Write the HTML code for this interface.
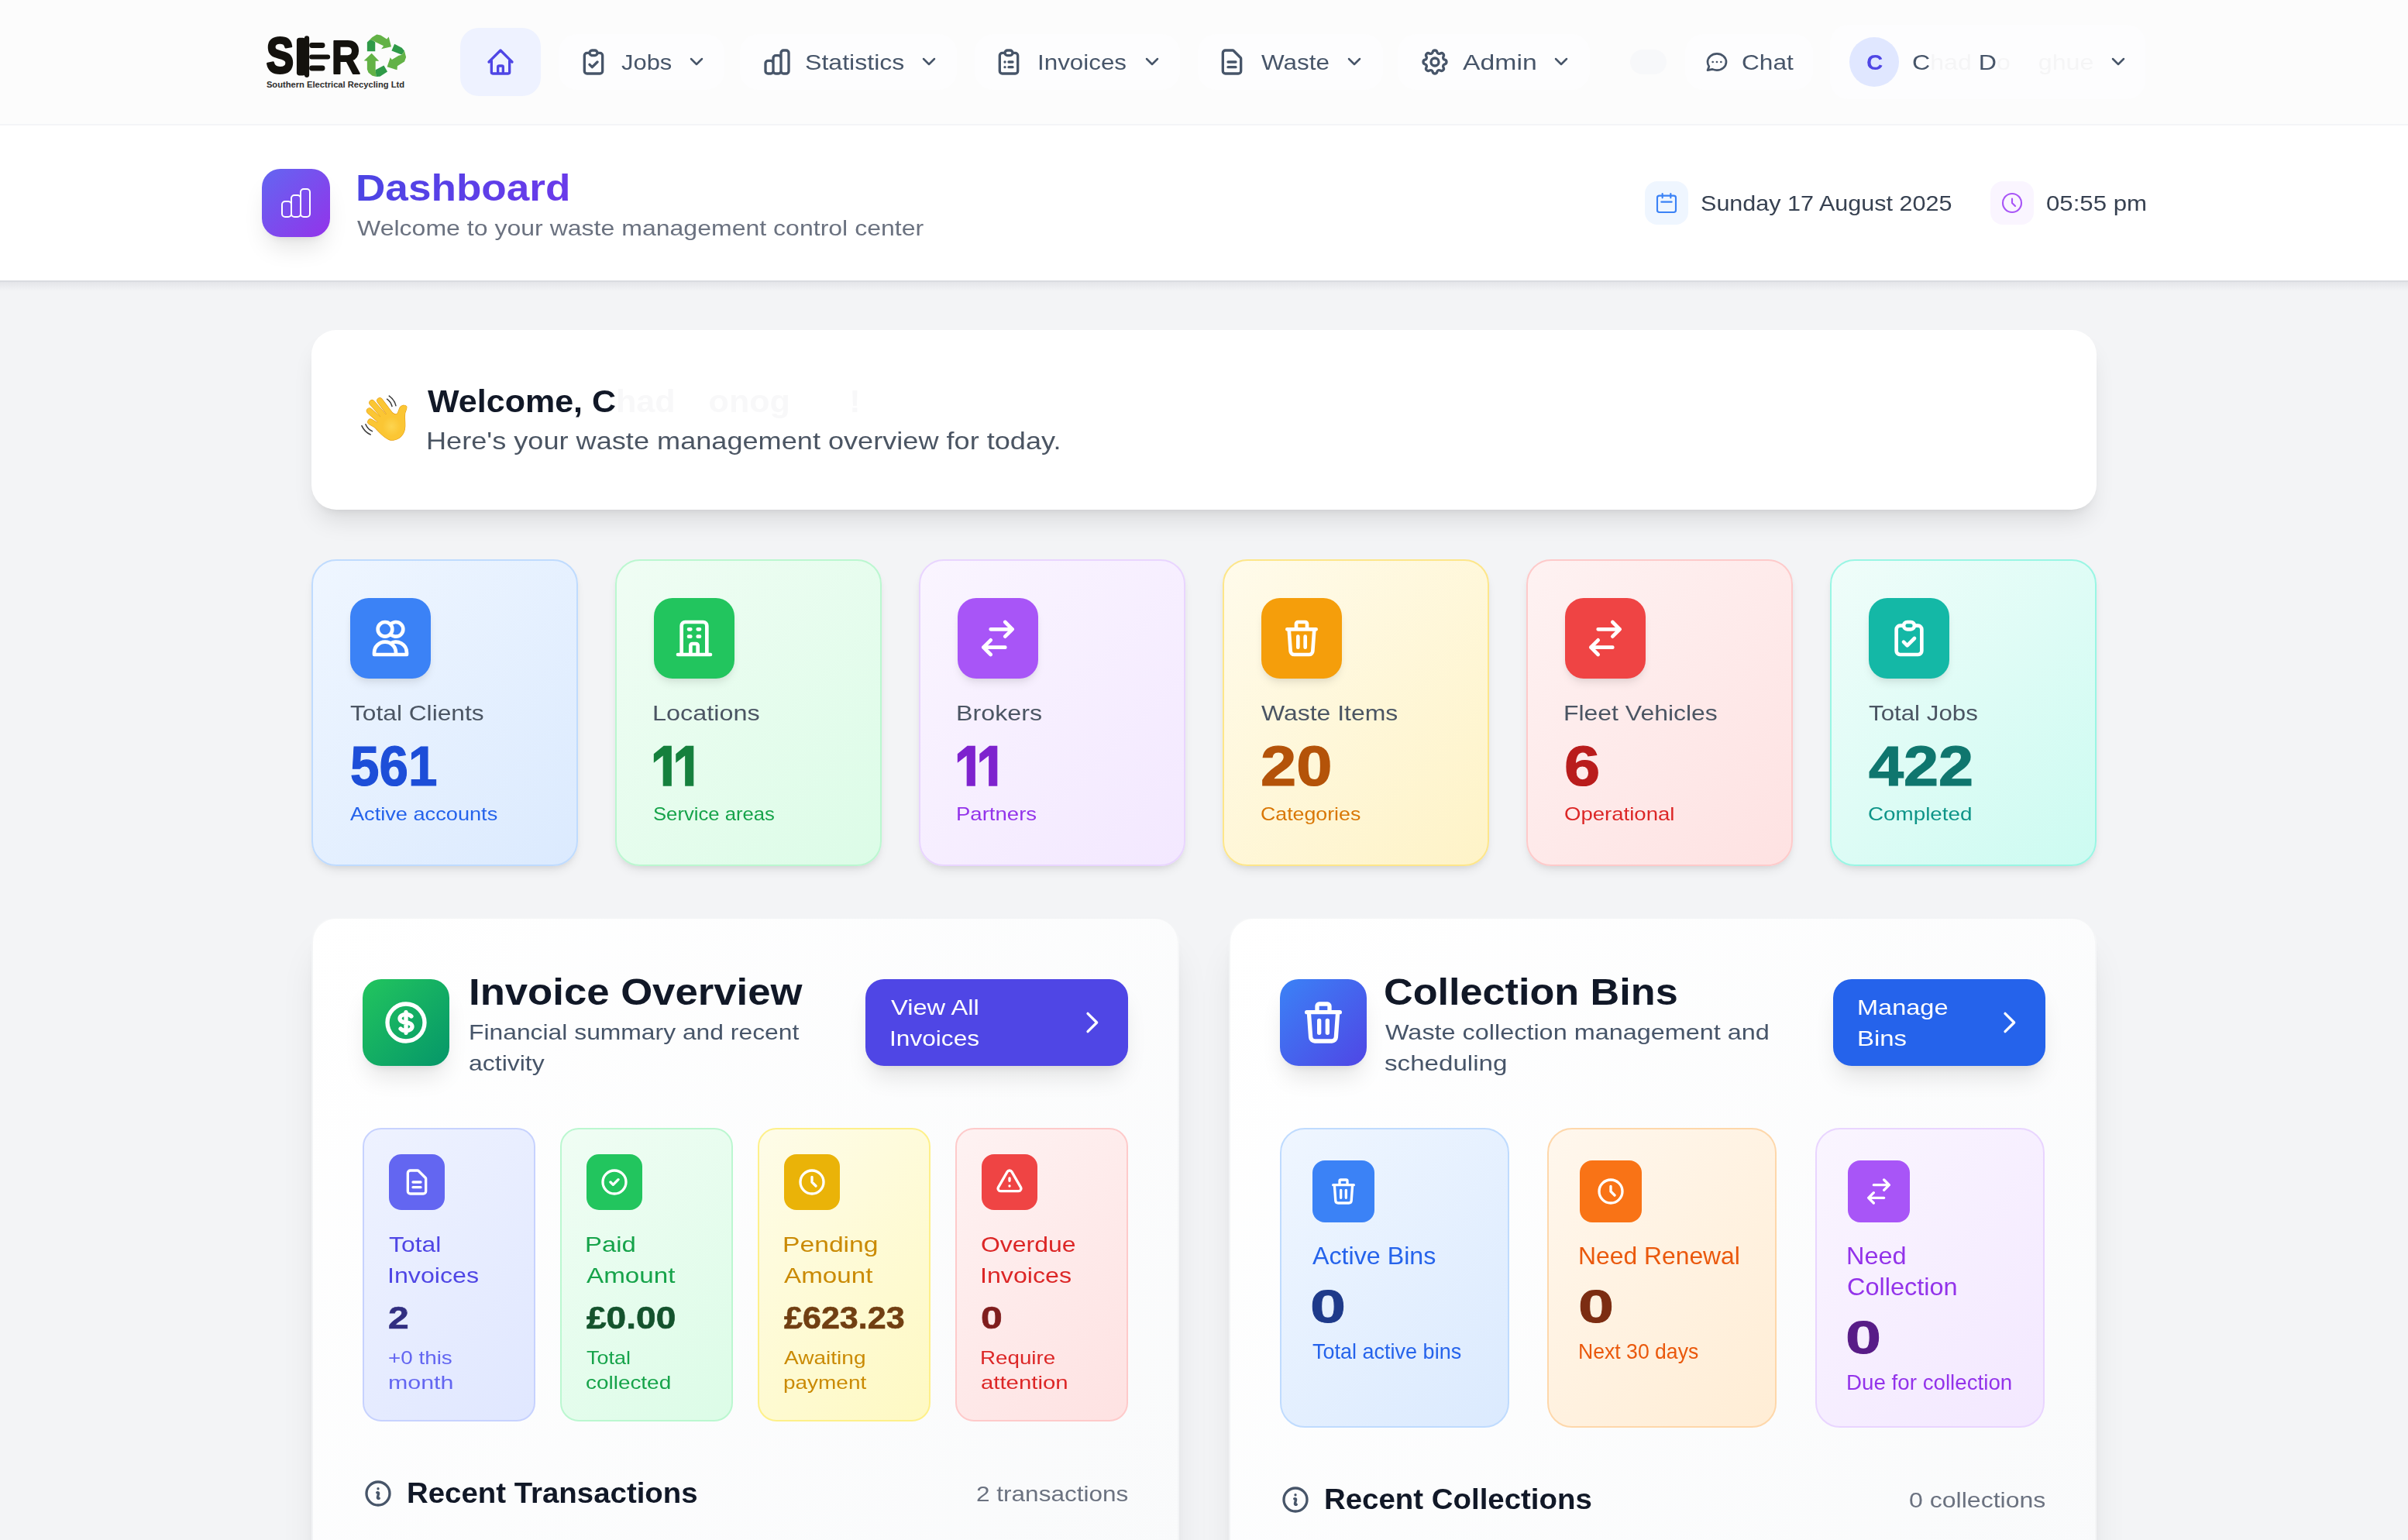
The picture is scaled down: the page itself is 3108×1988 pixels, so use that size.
<!DOCTYPE html>
<html><head><meta charset="utf-8"><title>Dashboard</title>
<style>
html,body{margin:0;padding:0;}
body{width:3108px;height:1988px;overflow:hidden;position:relative;background:#f3f4f6;font-family:"Liberation Sans",Arial,sans-serif;}
.t{position:absolute;white-space:nowrap;}
@media (max-width:2000px){body{zoom:0.5;}}
</style></head><body>
<div style="position:absolute;left:0px;top:0px;width:3108px;height:160px;background:#fcfcfc;"></div>
<div style="position:absolute;left:0px;top:160px;width:3108px;height:2px;background:#f4f5f7;"></div>
<svg style="position:absolute;left:336px;top:38px" width="200" height="80" viewBox="0 0 2408 963"><title>SER - Southern Electrical Recycling Ltd</title>
<text x="92" y="675" font-family="Liberation Sans, sans-serif" font-weight="700" font-size="770" fill="#14120e" stroke="#14120e" stroke-width="36" stroke-linejoin="round" textLength="425" lengthAdjust="spacingAndGlyphs">S</text>
<rect x="565" y="130" width="140" height="585" rx="45" fill="#14120e"/>
<rect x="685" y="100" width="75" height="645" rx="37" fill="#14120e"/>
<rect x="760" y="205" width="245" height="85" rx="42" fill="#14120e"/>
<rect x="760" y="390" width="325" height="72" rx="36" fill="#14120e"/>
<rect x="760" y="560" width="245" height="85" rx="42" fill="#14120e"/>
<text x="1105" y="682" font-family="Liberation Sans, sans-serif" font-weight="700" font-size="740" fill="#14120e" stroke="#14120e" stroke-width="24" stroke-linejoin="round" textLength="450" lengthAdjust="spacingAndGlyphs">R</text>
<polygon points="1660,200 1740,120 1810,78 1870,90 1965,150 1995,115 2035,268 1880,305 1915,255 1790,195 1750,170 1700,165" fill="#63b246"/>
<polygon points="1660,200 1700,165 1750,170 1785,200 1785,340 1660,340" fill="#2f9a48"/>
<polygon points="2040,330 2085,225 2200,285 2240,335 2200,395" fill="#2f9a48"/>
<polygon points="2240,335 2265,430 2240,500 2130,570 2125,630 1970,580 2020,435 2045,470 2150,405 2200,395" fill="#63b246"/>
<polygon points="1660,490 1610,485 1730,370 1845,490 1790,490 1790,630 1800,735 1740,720 1680,670 1660,620" fill="#63b246"/>
<polygon points="1790,630 1920,560 1975,655 1860,730 1800,735" fill="#2f9a48"/>
<text x="95" y="905" font-family="Liberation Sans, sans-serif" font-weight="700" font-size="140" fill="#2e2e2e" textLength="2145" lengthAdjust="spacingAndGlyphs">Southern Electrical Recycling Ltd</text>
</svg>
<div style="position:absolute;left:594px;top:36px;width:104px;height:88px;background:#eef2ff;border-radius:24px;"></div>
<svg style="position:absolute;left:626px;top:60px;" width="40" height="40" viewBox="0 0 24 24" fill="none" stroke="#4f46e5" stroke-width="2" stroke-linecap="round" stroke-linejoin="round"><path d="M3 12l2-2m0 0l7-7 7 7M5 10v10a1 1 0 001 1h3m10-11l2 2m-2-2v10a1 1 0 01-1 1h-3m-6 0a1 1 0 001-1v-4a1 1 0 011-1h2a1 1 0 011 1v4a1 1 0 001 1m-6 0h6"/></svg>
<div style="position:absolute;left:721px;top:44px;width:214px;height:72px;background:#fdfdfe;border-radius:24px;"></div>
<svg style="position:absolute;left:746px;top:60px;" width="40" height="40" viewBox="0 0 24 24" fill="none" stroke="#475569" stroke-width="2" stroke-linecap="round" stroke-linejoin="round"><path d="M9 5H7a2 2 0 00-2 2v12a2 2 0 002 2h10a2 2 0 002-2V7a2 2 0 00-2-2h-2M9 5a2 2 0 002 2h2a2 2 0 002-2M9 5a2 2 0 012-2h2a2 2 0 012 2m-6 9l2 2 4-4"/></svg>
<div class="t" style="left:802.0px;top:64.7px;font-size:28px;line-height:31.28px;color:#475569;transform:scaleX(1.1034);transform-origin:0 0;">Jobs</div>
<svg style="position:absolute;left:887px;top:67px;" width="24" height="24" viewBox="0 0 24 24" fill="none" stroke="#475569" stroke-width="2.5" stroke-linecap="round" stroke-linejoin="round"><path d="M19 9l-7 7-7-7"/></svg>
<div style="position:absolute;left:955px;top:44px;width:280px;height:72px;background:#fdfdfe;border-radius:24px;"></div>
<svg style="position:absolute;left:983px;top:60px;" width="40" height="40" viewBox="0 0 24 24" fill="none" stroke="#475569" stroke-width="2" stroke-linecap="round" stroke-linejoin="round"><path d="M9 19v-6a2 2 0 00-2-2H5a2 2 0 00-2 2v6a2 2 0 002 2h2a2 2 0 002-2zm0 0V9a2 2 0 012-2h2a2 2 0 012 2v10m-6 0a2 2 0 002 2h2a2 2 0 002-2m0 0V5a2 2 0 012-2h2a2 2 0 012 2v14a2 2 0 01-2 2h-2a2 2 0 01-2-2z"/></svg>
<div class="t" style="left:1038.9px;top:64.7px;font-size:28px;line-height:31.28px;color:#475569;transform:scaleX(1.1455);transform-origin:0 0;">Statistics</div>
<svg style="position:absolute;left:1187px;top:67px;" width="24" height="24" viewBox="0 0 24 24" fill="none" stroke="#475569" stroke-width="2.5" stroke-linecap="round" stroke-linejoin="round"><path d="M19 9l-7 7-7-7"/></svg>
<div style="position:absolute;left:1258px;top:44px;width:265px;height:72px;background:#fdfdfe;border-radius:24px;"></div>
<svg style="position:absolute;left:1282px;top:60px;" width="40" height="40" viewBox="0 0 24 24" fill="none" stroke="#475569" stroke-width="2" stroke-linecap="round" stroke-linejoin="round"><path d="M9 5H7a2 2 0 00-2 2v12a2 2 0 002 2h10a2 2 0 002-2V7a2 2 0 00-2-2h-2M9 5a2 2 0 002 2h2a2 2 0 002-2M9 5a2 2 0 012-2h2a2 2 0 012 2m-3 7h3m-3 4h3m-6-4h.01M9 16h.01"/></svg>
<div class="t" style="left:1339.3px;top:64.7px;font-size:28px;line-height:31.28px;color:#475569;transform:scaleX(1.1200);transform-origin:0 0;">Invoices</div>
<svg style="position:absolute;left:1475px;top:67px;" width="24" height="24" viewBox="0 0 24 24" fill="none" stroke="#475569" stroke-width="2.5" stroke-linecap="round" stroke-linejoin="round"><path d="M19 9l-7 7-7-7"/></svg>
<div style="position:absolute;left:1546px;top:44px;width:239px;height:72px;background:#fdfdfe;border-radius:24px;"></div>
<svg style="position:absolute;left:1570px;top:60px;" width="40" height="40" viewBox="0 0 24 24" fill="none" stroke="#475569" stroke-width="2" stroke-linecap="round" stroke-linejoin="round"><path d="M9 12h6m-6 4h6m2 5H7a2 2 0 01-2-2V5a2 2 0 012-2h5.586a1 1 0 01.707.293l5.414 5.414a1 1 0 01.293.707V19a2 2 0 01-2 2z"/></svg>
<div class="t" style="left:1627.5px;top:64.7px;font-size:28px;line-height:31.28px;color:#475569;transform:scaleX(1.1218);transform-origin:0 0;">Waste</div>
<svg style="position:absolute;left:1736px;top:67px;" width="24" height="24" viewBox="0 0 24 24" fill="none" stroke="#475569" stroke-width="2.5" stroke-linecap="round" stroke-linejoin="round"><path d="M19 9l-7 7-7-7"/></svg>
<div style="position:absolute;left:1804px;top:44px;width:248px;height:72px;background:#fdfdfe;border-radius:24px;"></div>
<svg style="position:absolute;left:1832px;top:60px;" width="40" height="40" viewBox="0 0 24 24" fill="none" stroke="#475569" stroke-width="2" stroke-linecap="round" stroke-linejoin="round"><path d="M10.325 4.317c.426-1.756 2.924-1.756 3.35 0a1.724 1.724 0 002.573 1.066c1.543-.94 3.31.826 2.37 2.37a1.724 1.724 0 001.065 2.572c1.756.426 1.756 2.924 0 3.35a1.724 1.724 0 00-1.066 2.573c.94 1.543-.826 3.31-2.37 2.37a1.724 1.724 0 00-2.572 1.065c-.426 1.756-2.924 1.756-3.35 0a1.724 1.724 0 00-2.573-1.066c-1.543.94-3.31-.826-2.37-2.37a1.724 1.724 0 00-1.065-2.572c-1.756-.426-1.756-2.924 0-3.35a1.724 1.724 0 001.066-2.573c-.94-1.543.826-3.31 2.37-2.37.996.608 2.296.07 2.572-1.065zM15 12a3 3 0 11-6 0 3 3 0 016 0z"/></svg>
<div class="t" style="left:1888.0px;top:64.7px;font-size:28px;line-height:31.28px;color:#475569;transform:scaleX(1.2051);transform-origin:0 0;">Admin</div>
<svg style="position:absolute;left:2003px;top:67px;" width="24" height="24" viewBox="0 0 24 24" fill="none" stroke="#475569" stroke-width="2.5" stroke-linecap="round" stroke-linejoin="round"><path d="M19 9l-7 7-7-7"/></svg>
<div style="position:absolute;left:2104px;top:64px;width:47px;height:32px;background:#f7f8fa;border-radius:16px;"></div>
<div style="position:absolute;left:2175px;top:44px;width:165px;height:72px;background:#fdfdfe;border-radius:24px;"></div>
<svg style="position:absolute;left:2200px;top:64px;" width="32" height="32" viewBox="0 0 24 24" fill="none" stroke="#475569" stroke-width="2" stroke-linecap="round" stroke-linejoin="round"><path d="M8 12h.01M12 12h.01M16 12h.01M21 12c0 4.418-4.03 8-9 8a9.863 9.863 0 01-4.255-.949L3 20l1.395-3.72C3.512 15.042 3 13.574 3 12c0-4.418 4.03-8 9-8s9 3.582 9 8z"/></svg>
<div class="t" style="left:2247.9px;top:64.7px;font-size:28px;line-height:31.28px;color:#475569;transform:scaleX(1.1293);transform-origin:0 0;">Chat</div>
<div style="position:absolute;left:2362px;top:32px;width:407px;height:96px;background:#fdfdfe;border-radius:24px;"></div>
<div style="position:absolute;left:2387px;top:48px;width:64px;height:64px;background:#e0e7ff;border-radius:50%;"></div>
<div class="t" style="left:2408.9px;top:64.7px;font-size:28px;line-height:31.28px;color:#4f46e5;transform:scaleX(1.0556);transform-origin:0 0;font-weight:700;">C</div>
<div class="t" style="left:2467.9px;top:64.7px;font-size:28px;line-height:31.28px;color:#475569;transform:scaleX(1.1485);transform-origin:0 0;">C<span style="color:#f5f5f6">had </span>D<span style="color:#f5f5f6">o</span><span style="color:#fdfdfe">no</span><span style="color:#f5f5f6">ghue</span></div>
<svg style="position:absolute;left:2722px;top:67px;" width="24" height="24" viewBox="0 0 24 24" fill="none" stroke="#475569" stroke-width="2.5" stroke-linecap="round" stroke-linejoin="round"><path d="M19 9l-7 7-7-7"/></svg>
<div style="position:absolute;left:0px;top:162px;width:3108px;height:200px;background:#ffffff;"></div>
<div style="position:absolute;left:0px;top:362px;width:3108px;height:2px;background:#d9dbe0;"></div>
<div style="position:absolute;left:0px;top:364px;width:3108px;height:12px;background:linear-gradient(#e4e5e9,rgba(243,244,246,0));"></div>
<div style="position:absolute;left:338px;top:218px;width:88px;height:88px;background:linear-gradient(135deg,#6366f1,#9333ea);border-radius:24px;box-shadow:0 20px 30px -6px rgba(0,0,0,0.1),0 8px 12px -8px rgba(0,0,0,0.1);"></div>
<svg style="position:absolute;left:358px;top:238px;" width="48" height="48" viewBox="0 0 24 24" fill="none" stroke="#ffffff" stroke-width="1" stroke-linecap="round" stroke-linejoin="round"><path d="M9 19v-6a2 2 0 00-2-2H5a2 2 0 00-2 2v6a2 2 0 002 2h2a2 2 0 002-2zm0 0V9a2 2 0 012-2h2a2 2 0 012 2v10m-6 0a2 2 0 002 2h2a2 2 0 002-2m0 0V5a2 2 0 012-2h2a2 2 0 012 2v14a2 2 0 01-2 2h-2a2 2 0 01-2-2z"/></svg>
<div class="t" style="left:458.7px;top:215.6px;font-size:48px;line-height:53.62px;color:#4f46e5;transform:scaleX(1.1066);transform-origin:0 0;font-weight:700;background:linear-gradient(90deg,#4c45e4,#6a3aea);-webkit-background-clip:text;background-clip:text;color:transparent;">Dashboard</div>
<div class="t" style="left:461.0px;top:278.7px;font-size:28px;line-height:31.28px;color:#6b7280;transform:scaleX(1.1440);transform-origin:0 0;">Welcome to your waste management control center</div>
<div style="position:absolute;left:2123px;top:234px;width:56px;height:56px;background:#eff6ff;border-radius:16px;"></div>
<svg style="position:absolute;left:2135px;top:246px;" width="32" height="32" viewBox="0 0 24 24" fill="none" stroke="#3b82f6" stroke-width="1.6" stroke-linecap="round" stroke-linejoin="round"><path d="M8 7V3m8 4V3m-9 8h10M5 21h14a2 2 0 002-2V7a2 2 0 00-2-2H5a2 2 0 00-2 2v12a2 2 0 002 2z"/></svg>
<div class="t" style="left:2194.9px;top:247.2px;font-size:28px;line-height:31.28px;color:#374151;transform:scaleX(1.0912);transform-origin:0 0;">Sunday 17 August 2025</div>
<div style="position:absolute;left:2569px;top:234px;width:56px;height:56px;background:#faf5ff;border-radius:16px;"></div>
<svg style="position:absolute;left:2581px;top:246px;" width="32" height="32" viewBox="0 0 24 24" fill="none" stroke="#a855f7" stroke-width="1.6" stroke-linecap="round" stroke-linejoin="round"><path d="M12 8v4l3 3m6-3a9 9 0 11-18 0 9 9 0 0118 0z"/></svg>
<div class="t" style="left:2640.9px;top:247.2px;font-size:28px;line-height:31.28px;color:#374151;transform:scaleX(1.1140);transform-origin:0 0;">05:55 pm</div>
<div style="position:absolute;left:402px;top:426px;width:2304px;height:232px;background:#ffffff;border-radius:32px;box-shadow:0 20px 30px -6px rgba(0,0,0,0.1),0 8px 12px -8px rgba(0,0,0,0.1);"></div>
<svg style="position:absolute;left:460px;top:505px" width="72" height="70" viewBox="0 0 1584 1540">
<defs><radialGradient id="hl"><stop offset="0" stop-color="#fdd856" stop-opacity="0.8"/><stop offset="1" stop-color="#fdd856" stop-opacity="0"/></radialGradient></defs>
<g stroke="#3d3d3d" stroke-width="34" fill="none" stroke-linecap="round">
<path d="M870 225 Q975 300 1012 430"/><path d="M930 135 Q1080 240 1120 410"/>
<path d="M262 940 Q320 1080 450 1135"/><path d="M152 982 Q240 1170 400 1230"/></g>
<g stroke-linecap="round">
<line x1="400" y1="870" x2="760" y2="1080" stroke="#e6a01b" stroke-width="175"/>
<line x1="370" y1="560" x2="760" y2="900" stroke="#e6a01b" stroke-width="175"/>
<line x1="445" y1="330" x2="840" y2="780" stroke="#e6a01b" stroke-width="175"/>
<line x1="665" y1="270" x2="960" y2="660" stroke="#e6a01b" stroke-width="175"/>
<path d="M520,1025 C640,1150 840,1390 1000,1390 C1200,1390 1370,1250 1380,1000 C1385,850 1360,740 1380,620 C1400,540 1450,470 1420,430 C1380,380 1280,400 1240,460 C1200,520 1200,600 1150,650 C1100,680 1050,640 1000,600 L700,700 Z" fill="#e6a01b" stroke="#e6a01b" stroke-width="26" stroke-linejoin="round"/>
<line x1="400" y1="870" x2="760" y2="1080" stroke="#fbc634" stroke-width="150"/>
<line x1="370" y1="560" x2="760" y2="900" stroke="#fbc634" stroke-width="150"/>
<line x1="445" y1="330" x2="840" y2="780" stroke="#fbc634" stroke-width="150"/>
<line x1="665" y1="270" x2="960" y2="660" stroke="#fbc634" stroke-width="150"/>
<path d="M520,1025 C640,1150 840,1390 1000,1390 C1200,1390 1370,1250 1380,1000 C1385,850 1360,740 1380,620 C1400,540 1450,470 1420,430 C1380,380 1280,400 1240,460 C1200,520 1200,600 1150,650 C1100,680 1050,640 1000,600 L700,700 Z" fill="#fbc634"/>
<ellipse cx="1000" cy="1000" rx="260" ry="280" fill="url(#hl)"/>
</g></svg>
<div class="t" style="left:552.0px;top:495.8px;font-size:40px;line-height:44.68px;color:#111827;transform:scaleX(1.0756);transform-origin:0 0;font-weight:700;">Welcome, C<span style="color:#f8f8f9">had</span><span style="color:#fff"> D</span><span style="color:#f8f8f9">onog</span><span style="color:#fff">hue</span><span style="color:#f8f8f9">!</span></div>
<div class="t" style="left:549.7px;top:551.5px;font-size:32px;line-height:35.74px;color:#4b5563;transform:scaleX(1.1290);transform-origin:0 0;">Here's your waste management overview for today.</div>
<div style="position:absolute;left:402px;top:722px;width:344px;height:396px;box-sizing:border-box;border:2px solid #bfdbfe;border-radius:32px;background:linear-gradient(135deg,#eff6ff,#dbeafe);box-shadow:0 8px 14px -4px rgba(0,0,0,0.1),0 4px 8px -4px rgba(0,0,0,0.08);"></div>
<div style="position:absolute;left:452px;top:772px;width:104px;height:104px;background:#3b82f6;border-radius:24px;box-shadow:0 8px 12px -2px rgba(0,0,0,0.08),0 4px 8px -4px rgba(0,0,0,0.08);"></div>
<svg style="position:absolute;left:476px;top:796px;" width="56" height="56" viewBox="0 0 24 24" fill="none" stroke="#ffffff" stroke-width="2" stroke-linecap="round" stroke-linejoin="round"><path d="M12 4.354a4 4 0 110 5.292M15 21H3v-1a6 6 0 0112 0v1zm0 0h6v-1a6 6 0 00-9-5.197M13 7a4 4 0 11-8 0 4 4 0 018 0z"/></svg>
<div class="t" style="left:452.0px;top:904.7px;font-size:28px;line-height:31.28px;color:#4b5563;transform:scaleX(1.1316);transform-origin:0 0;">Total Clients</div>
<div class="t" style="left:451.6px;top:949.1px;font-size:72px;line-height:80.42px;color:#1d4ed8;transform:scaleX(0.9353);transform-origin:0 0;font-weight:700;-webkit-text-stroke:1.2px #1d4ed8;">561</div>
<div class="t" style="left:452.0px;top:1038.3px;font-size:24px;line-height:26.81px;color:#2563eb;transform:scaleX(1.1317);transform-origin:0 0;">Active accounts</div>
<div style="position:absolute;left:794px;top:722px;width:344px;height:396px;box-sizing:border-box;border:2px solid #bbf7d0;border-radius:32px;background:linear-gradient(135deg,#f0fdf4,#dcfce7);box-shadow:0 8px 14px -4px rgba(0,0,0,0.1),0 4px 8px -4px rgba(0,0,0,0.08);"></div>
<div style="position:absolute;left:844px;top:772px;width:104px;height:104px;background:#22c55e;border-radius:24px;box-shadow:0 8px 12px -2px rgba(0,0,0,0.08),0 4px 8px -4px rgba(0,0,0,0.08);"></div>
<svg style="position:absolute;left:868px;top:796px;" width="56" height="56" viewBox="0 0 24 24" fill="none" stroke="#ffffff" stroke-width="2" stroke-linecap="round" stroke-linejoin="round"><path d="M19 21V5a2 2 0 00-2-2H7a2 2 0 00-2 2v16m14 0h2m-2 0h-5m-9 0H3m2 0h5M9 7h1m-1 4h1m4-4h1m-1 4h1m-5 10v-5a1 1 0 011-1h2a1 1 0 011 1v5m-4 0h4"/></svg>
<div class="t" style="left:841.7px;top:904.7px;font-size:28px;line-height:31.28px;color:#4b5563;transform:scaleX(1.1581);transform-origin:0 0;">Locations</div>
<div class="t" style="left:839.6px;top:948.4px;font-size:72px;line-height:80.4px;font-weight:700;color:#15803d;-webkit-text-stroke:1.2px #15803d;letter-spacing:-11.6px;font-kerning:none;clip-path:inset(0 0 24.5px 0);transform:scaleY(1.27);transform-origin:0 16px;">11</div>
<div class="t" style="left:842.9px;top:1038.3px;font-size:24px;line-height:26.81px;color:#16a34a;transform:scaleX(1.0690);transform-origin:0 0;">Service areas</div>
<div style="position:absolute;left:1186px;top:722px;width:344px;height:396px;box-sizing:border-box;border:2px solid #e9d5ff;border-radius:32px;background:linear-gradient(135deg,#faf5ff,#f3e8ff);box-shadow:0 8px 14px -4px rgba(0,0,0,0.1),0 4px 8px -4px rgba(0,0,0,0.08);"></div>
<div style="position:absolute;left:1236px;top:772px;width:104px;height:104px;background:#a855f7;border-radius:24px;box-shadow:0 8px 12px -2px rgba(0,0,0,0.08),0 4px 8px -4px rgba(0,0,0,0.08);"></div>
<svg style="position:absolute;left:1260px;top:796px;" width="56" height="56" viewBox="0 0 24 24" fill="none" stroke="#ffffff" stroke-width="2" stroke-linecap="round" stroke-linejoin="round"><path d="M8 7h12m0 0l-4-4m4 4l-4 4m0 6H4m0 0l4 4m-4-4l4-4"/></svg>
<div class="t" style="left:1233.7px;top:904.7px;font-size:28px;line-height:31.28px;color:#4b5563;transform:scaleX(1.1505);transform-origin:0 0;">Brokers</div>
<div class="t" style="left:1231.6px;top:948.4px;font-size:72px;line-height:80.4px;font-weight:700;color:#7e22ce;-webkit-text-stroke:1.2px #7e22ce;letter-spacing:-11.6px;font-kerning:none;clip-path:inset(0 0 24.5px 0);transform:scaleY(1.27);transform-origin:0 16px;">11</div>
<div class="t" style="left:1233.7px;top:1038.3px;font-size:24px;line-height:26.81px;color:#9333ea;transform:scaleX(1.1477);transform-origin:0 0;">Partners</div>
<div style="position:absolute;left:1578px;top:722px;width:344px;height:396px;box-sizing:border-box;border:2px solid #fde68a;border-radius:32px;background:linear-gradient(135deg,#fffbeb,#fef3c7);box-shadow:0 8px 14px -4px rgba(0,0,0,0.1),0 4px 8px -4px rgba(0,0,0,0.08);"></div>
<div style="position:absolute;left:1628px;top:772px;width:104px;height:104px;background:#f59e0b;border-radius:24px;box-shadow:0 8px 12px -2px rgba(0,0,0,0.08),0 4px 8px -4px rgba(0,0,0,0.08);"></div>
<svg style="position:absolute;left:1652px;top:796px;" width="56" height="56" viewBox="0 0 24 24" fill="none" stroke="#ffffff" stroke-width="2" stroke-linecap="round" stroke-linejoin="round"><path d="M19 7l-.867 12.142A2 2 0 0116.138 21H7.862a2 2 0 01-1.995-1.858L5 7m5 4v6m4-6v6m1-10V4a1 1 0 00-1-1h-4a1 1 0 00-1 1v3M4 7h16"/></svg>
<div class="t" style="left:1628.0px;top:904.7px;font-size:28px;line-height:31.28px;color:#4b5563;transform:scaleX(1.1403);transform-origin:0 0;">Waste Items</div>
<div class="t" style="left:1627.2px;top:949.1px;font-size:72px;line-height:80.42px;color:#b45309;transform:scaleX(1.1533);transform-origin:0 0;font-weight:700;-webkit-text-stroke:1.2px #b45309;">20</div>
<div class="t" style="left:1626.9px;top:1038.3px;font-size:24px;line-height:26.81px;color:#d97706;transform:scaleX(1.1140);transform-origin:0 0;">Categories</div>
<div style="position:absolute;left:1970px;top:722px;width:344px;height:396px;box-sizing:border-box;border:2px solid #fecaca;border-radius:32px;background:linear-gradient(135deg,#fef2f2,#fee2e2);box-shadow:0 8px 14px -4px rgba(0,0,0,0.1),0 4px 8px -4px rgba(0,0,0,0.08);"></div>
<div style="position:absolute;left:2020px;top:772px;width:104px;height:104px;background:#ef4444;border-radius:24px;box-shadow:0 8px 12px -2px rgba(0,0,0,0.08),0 4px 8px -4px rgba(0,0,0,0.08);"></div>
<svg style="position:absolute;left:2044px;top:796px;" width="56" height="56" viewBox="0 0 24 24" fill="none" stroke="#ffffff" stroke-width="2" stroke-linecap="round" stroke-linejoin="round"><path d="M8 7h12m0 0l-4-4m4 4l-4 4m0 6H4m0 0l4 4m-4-4l4-4"/></svg>
<div class="t" style="left:2017.7px;top:904.7px;font-size:28px;line-height:31.28px;color:#4b5563;transform:scaleX(1.1404);transform-origin:0 0;">Fleet Vehicles</div>
<div class="t" style="left:2019.2px;top:949.1px;font-size:72px;line-height:80.42px;color:#b91c1c;transform:scaleX(1.1528);transform-origin:0 0;font-weight:700;-webkit-text-stroke:1.2px #b91c1c;">6</div>
<div class="t" style="left:2018.9px;top:1038.3px;font-size:24px;line-height:26.81px;color:#dc2626;transform:scaleX(1.1475);transform-origin:0 0;">Operational</div>
<div style="position:absolute;left:2362px;top:722px;width:344px;height:396px;box-sizing:border-box;border:2px solid #99f6e4;border-radius:32px;background:linear-gradient(135deg,#f0fdfa,#ccfbf1);box-shadow:0 8px 14px -4px rgba(0,0,0,0.1),0 4px 8px -4px rgba(0,0,0,0.08);"></div>
<div style="position:absolute;left:2412px;top:772px;width:104px;height:104px;background:#14b8a6;border-radius:24px;box-shadow:0 8px 12px -2px rgba(0,0,0,0.08),0 4px 8px -4px rgba(0,0,0,0.08);"></div>
<svg style="position:absolute;left:2436px;top:796px;" width="56" height="56" viewBox="0 0 24 24" fill="none" stroke="#ffffff" stroke-width="2" stroke-linecap="round" stroke-linejoin="round"><path d="M9 5H7a2 2 0 00-2 2v12a2 2 0 002 2h10a2 2 0 002-2V7a2 2 0 00-2-2h-2M9 5a2 2 0 002 2h2a2 2 0 002-2M9 5a2 2 0 012-2h2a2 2 0 012 2m-6 9l2 2 4-4"/></svg>
<div class="t" style="left:2412.0px;top:904.7px;font-size:28px;line-height:31.28px;color:#4b5563;transform:scaleX(1.1168);transform-origin:0 0;">Total Jobs</div>
<div class="t" style="left:2412.4px;top:949.1px;font-size:72px;line-height:80.42px;color:#0f766e;transform:scaleX(1.1250);transform-origin:0 0;font-weight:700;-webkit-text-stroke:1.2px #0f766e;">422</div>
<div class="t" style="left:2410.8px;top:1038.3px;font-size:24px;line-height:26.81px;color:#0d9488;transform:scaleX(1.1579);transform-origin:0 0;">Completed</div>
<div style="position:absolute;left:402px;top:1184px;width:1120px;height:900px;box-sizing:border-box;border:2px solid rgba(225,228,232,0.3);border-radius:32px;background:linear-gradient(135deg,#ffffff,#f9fafb);box-shadow:0 40px 50px -10px rgba(0,0,0,0.1),0 16px 20px -12px rgba(0,0,0,0.1);"></div>
<div style="position:absolute;left:1586px;top:1184px;width:1120px;height:900px;box-sizing:border-box;border:2px solid rgba(225,228,232,0.3);border-radius:32px;background:linear-gradient(135deg,#ffffff,#f9fafb);box-shadow:0 40px 50px -10px rgba(0,0,0,0.1),0 16px 20px -12px rgba(0,0,0,0.1);"></div>
<div style="position:absolute;left:468px;top:1264px;width:112px;height:112px;background:linear-gradient(135deg,#22c55e,#059669);border-radius:24px;box-shadow:0 20px 30px -6px rgba(0,0,0,0.1),0 8px 12px -8px rgba(0,0,0,0.1);"></div>
<svg style="position:absolute;left:492px;top:1288px;" width="64" height="64" viewBox="0 0 24 24" fill="none" stroke="#ffffff" stroke-width="2" stroke-linecap="round" stroke-linejoin="round"><path d="M12 8c-1.657 0-3 .895-3 2s1.343 2 3 2 3 .895 3 2-1.343 2-3 2m0-8c1.11 0 2.08.402 2.599 1M12 8V7m0 1v8m0 0v1m0-1c-1.11 0-2.08-.402-2.599-1M21 12a9 9 0 11-18 0 9 9 0 0118 0z"/></svg>
<div class="t" style="left:604.7px;top:1253.6px;font-size:48px;line-height:53.62px;color:#111827;transform:scaleX(1.0974);transform-origin:0 0;font-weight:700;">Invoice Overview</div>
<div class="t" style="left:604.7px;top:1317.0px;font-size:28px;line-height:31.28px;color:#475569;transform:scaleX(1.1367);transform-origin:0 0;">Financial summary and recent</div>
<div class="t" style="left:604.9px;top:1356.7px;font-size:28px;line-height:31.28px;color:#475569;transform:scaleX(1.1412);transform-origin:0 0;">activity</div>
<div style="position:absolute;left:1117px;top:1264px;width:339px;height:112px;background:#4f46e5;border-radius:24px;box-shadow:0 20px 30px -6px rgba(0,0,0,0.1),0 8px 12px -8px rgba(0,0,0,0.1);"></div>
<div class="t" style="left:1150.0px;top:1285.2px;font-size:28px;line-height:31.28px;color:#ffffff;transform:scaleX(1.1667);transform-origin:0 0;">View All</div>
<div class="t" style="left:1147.7px;top:1325.2px;font-size:28px;line-height:31.28px;color:#ffffff;transform:scaleX(1.1300);transform-origin:0 0;">Invoices</div>
<svg style="position:absolute;left:1389px;top:1300px;" width="40" height="40" viewBox="0 0 24 24" fill="none" stroke="#ffffff" stroke-width="2" stroke-linecap="round" stroke-linejoin="round"><path d="M9 5l7 7-7 7"/></svg>
<div style="position:absolute;left:1652px;top:1264px;width:112px;height:112px;background:linear-gradient(135deg,#3b82f6,#4f46e5);border-radius:24px;box-shadow:0 20px 30px -6px rgba(0,0,0,0.1),0 8px 12px -8px rgba(0,0,0,0.1);"></div>
<svg style="position:absolute;left:1676px;top:1288px;" width="64" height="64" viewBox="0 0 24 24" fill="none" stroke="#ffffff" stroke-width="2" stroke-linecap="round" stroke-linejoin="round"><path d="M19 7l-.867 12.142A2 2 0 0116.138 21H7.862a2 2 0 01-1.995-1.858L5 7m5 4v6m4-6v6m1-10V4a1 1 0 00-1-1h-4a1 1 0 00-1 1v3M4 7h16"/></svg>
<div class="t" style="left:1785.8px;top:1253.6px;font-size:48px;line-height:53.62px;color:#111827;transform:scaleX(1.0867);transform-origin:0 0;font-weight:700;">Collection Bins</div>
<div class="t" style="left:1788.0px;top:1317.0px;font-size:28px;line-height:31.28px;color:#475569;transform:scaleX(1.1569);transform-origin:0 0;">Waste collection management and</div>
<div class="t" style="left:1786.8px;top:1356.7px;font-size:28px;line-height:31.28px;color:#475569;transform:scaleX(1.1832);transform-origin:0 0;">scheduling</div>
<div style="position:absolute;left:2366px;top:1264px;width:274px;height:112px;background:#2563eb;border-radius:24px;box-shadow:0 20px 30px -6px rgba(0,0,0,0.1),0 8px 12px -8px rgba(0,0,0,0.1);"></div>
<div class="t" style="left:2396.7px;top:1285.2px;font-size:28px;line-height:31.28px;color:#ffffff;transform:scaleX(1.1616);transform-origin:0 0;">Manage</div>
<div class="t" style="left:2396.6px;top:1325.2px;font-size:28px;line-height:31.28px;color:#ffffff;transform:scaleX(1.1765);transform-origin:0 0;">Bins</div>
<svg style="position:absolute;left:2573px;top:1300px;" width="40" height="40" viewBox="0 0 24 24" fill="none" stroke="#ffffff" stroke-width="2" stroke-linecap="round" stroke-linejoin="round"><path d="M9 5l7 7-7 7"/></svg>
<div style="position:absolute;left:468px;top:1456px;width:223px;height:379px;box-sizing:border-box;border:2px solid #c7d2fe;border-radius:24px;background:linear-gradient(135deg,#eef2ff,#e0e7ff);"></div>
<div style="position:absolute;left:502px;top:1490px;width:72px;height:72px;background:#6366f1;border-radius:16px;"></div>
<svg style="position:absolute;left:518px;top:1506px;" width="40" height="40" viewBox="0 0 24 24" fill="none" stroke="#ffffff" stroke-width="2" stroke-linecap="round" stroke-linejoin="round"><path d="M9 12h6m-6 4h6m2 5H7a2 2 0 01-2-2V5a2 2 0 012-2h5.586a1 1 0 01.707.293l5.414 5.414a1 1 0 01.293.707V19a2 2 0 01-2 2z"/></svg>
<div class="t" style="left:502.0px;top:1590.7px;font-size:28px;line-height:31.28px;color:#4f46e5;transform:scaleX(1.1379);transform-origin:0 0;">Total</div>
<div class="t" style="left:499.7px;top:1630.7px;font-size:28px;line-height:31.28px;color:#4f46e5;transform:scaleX(1.1500);transform-origin:0 0;">Invoices</div>
<div class="t" style="left:500.8px;top:1679.1px;font-size:40px;line-height:44.68px;color:#312e81;transform:scaleX(1.2000);transform-origin:0 0;font-weight:700;-webkit-text-stroke:0.6px #312e81;">2</div>
<div class="t" style="left:500.8px;top:1740.3px;font-size:24px;line-height:26.81px;color:#6366f1;transform:scaleX(1.1594);transform-origin:0 0;">+0 this</div>
<div class="t" style="left:500.7px;top:1772.3px;font-size:24px;line-height:26.81px;color:#6366f1;transform:scaleX(1.2656);transform-origin:0 0;">month</div>
<div style="position:absolute;left:723px;top:1456px;width:223px;height:379px;box-sizing:border-box;border:2px solid #bbf7d0;border-radius:24px;background:linear-gradient(135deg,#f0fdf4,#dcfce7);"></div>
<div style="position:absolute;left:757px;top:1490px;width:72px;height:72px;background:#22c55e;border-radius:16px;"></div>
<svg style="position:absolute;left:773px;top:1506px;" width="40" height="40" viewBox="0 0 24 24" fill="none" stroke="#ffffff" stroke-width="2" stroke-linecap="round" stroke-linejoin="round"><path d="M9 12l2 2 4-4m6 2a9 9 0 11-18 0 9 9 0 0118 0z"/></svg>
<div class="t" style="left:754.7px;top:1590.7px;font-size:28px;line-height:31.28px;color:#16a34a;transform:scaleX(1.1731);transform-origin:0 0;">Paid</div>
<div class="t" style="left:757.0px;top:1630.7px;font-size:28px;line-height:31.28px;color:#16a34a;transform:scaleX(1.1856);transform-origin:0 0;">Amount</div>
<div class="t" style="left:757.0px;top:1679.1px;font-size:40px;line-height:44.68px;color:#14532d;transform:scaleX(1.1515);transform-origin:0 0;font-weight:700;-webkit-text-stroke:0.6px #14532d;">£0.00</div>
<div class="t" style="left:757.0px;top:1740.3px;font-size:24px;line-height:26.81px;color:#16a34a;transform:scaleX(1.1224);transform-origin:0 0;">Total</div>
<div class="t" style="left:755.8px;top:1772.3px;font-size:24px;line-height:26.81px;color:#16a34a;transform:scaleX(1.1630);transform-origin:0 0;">collected</div>
<div style="position:absolute;left:978px;top:1456px;width:223px;height:379px;box-sizing:border-box;border:2px solid #fef08a;border-radius:24px;background:linear-gradient(135deg,#fefce8,#fef9c3);"></div>
<div style="position:absolute;left:1012px;top:1490px;width:72px;height:72px;background:#eab308;border-radius:16px;"></div>
<svg style="position:absolute;left:1028px;top:1506px;" width="40" height="40" viewBox="0 0 24 24" fill="none" stroke="#ffffff" stroke-width="2" stroke-linecap="round" stroke-linejoin="round"><path d="M12 8v4l3 3m6-3a9 9 0 11-18 0 9 9 0 0118 0z"/></svg>
<div class="t" style="left:1009.6px;top:1590.7px;font-size:28px;line-height:31.28px;color:#ca8a04;transform:scaleX(1.2020);transform-origin:0 0;">Pending</div>
<div class="t" style="left:1012.0px;top:1630.7px;font-size:28px;line-height:31.28px;color:#ca8a04;transform:scaleX(1.1856);transform-origin:0 0;">Amount</div>
<div class="t" style="left:1012.0px;top:1679.1px;font-size:40px;line-height:44.68px;color:#713f12;transform:scaleX(1.0769);transform-origin:0 0;font-weight:700;-webkit-text-stroke:0.6px #713f12;">£623.23</div>
<div class="t" style="left:1012.0px;top:1740.3px;font-size:24px;line-height:26.81px;color:#ca8a04;transform:scaleX(1.1685);transform-origin:0 0;">Awaiting</div>
<div class="t" style="left:1010.8px;top:1772.3px;font-size:24px;line-height:26.81px;color:#ca8a04;transform:scaleX(1.1648);transform-origin:0 0;">payment</div>
<div style="position:absolute;left:1233px;top:1456px;width:223px;height:379px;box-sizing:border-box;border:2px solid #fecaca;border-radius:24px;background:linear-gradient(135deg,#fef2f2,#fee2e2);"></div>
<div style="position:absolute;left:1267px;top:1490px;width:72px;height:72px;background:#ef4444;border-radius:16px;"></div>
<svg style="position:absolute;left:1283px;top:1506px;" width="40" height="40" viewBox="0 0 24 24" fill="none" stroke="#ffffff" stroke-width="2" stroke-linecap="round" stroke-linejoin="round"><path d="M12 9v2m0 4h.01m-6.938 4h13.856c1.54 0 2.502-1.667 1.732-3L13.732 4c-.77-1.333-2.694-1.333-3.464 0L3.34 16c-.77 1.333.192 3 1.732 3z"/></svg>
<div class="t" style="left:1265.9px;top:1590.7px;font-size:28px;line-height:31.28px;color:#dc2626;transform:scaleX(1.1415);transform-origin:0 0;">Overdue</div>
<div class="t" style="left:1264.7px;top:1630.7px;font-size:28px;line-height:31.28px;color:#dc2626;transform:scaleX(1.1500);transform-origin:0 0;">Invoices</div>
<div class="t" style="left:1265.8px;top:1679.1px;font-size:40px;line-height:44.68px;color:#7f1d1d;transform:scaleX(1.2500);transform-origin:0 0;font-weight:700;-webkit-text-stroke:0.6px #7f1d1d;">0</div>
<div class="t" style="left:1264.7px;top:1740.3px;font-size:24px;line-height:26.81px;color:#dc2626;transform:scaleX(1.1556);transform-origin:0 0;">Require</div>
<div class="t" style="left:1265.8px;top:1772.3px;font-size:24px;line-height:26.81px;color:#dc2626;transform:scaleX(1.2222);transform-origin:0 0;">attention</div>
<div style="position:absolute;left:1652.0px;top:1456px;width:296px;height:387px;box-sizing:border-box;border:2px solid #bfdbfe;border-radius:32px;background:linear-gradient(135deg,#eff6ff,#dbeafe);"></div>
<div style="position:absolute;left:1694.0px;top:1498px;width:80px;height:80px;background:#3b82f6;border-radius:16px;"></div>
<svg style="position:absolute;left:1714.0px;top:1518px;" width="40" height="40" viewBox="0 0 24 24" fill="none" stroke="#ffffff" stroke-width="2" stroke-linecap="round" stroke-linejoin="round"><path d="M19 7l-.867 12.142A2 2 0 0116.138 21H7.862a2 2 0 01-1.995-1.858L5 7m5 4v6m4-6v6m1-10V4a1 1 0 00-1-1h-4a1 1 0 00-1 1v3M4 7h16"/></svg>
<div class="t" style="left:1694.0px;top:1603.6px;font-size:32px;line-height:35.74px;color:#2563eb;transform:scaleX(1.0064);transform-origin:0 0;">Active Bins</div>
<div class="t" style="left:1691.2px;top:1652.7px;font-size:60px;line-height:67.02px;color:#1e3a8a;transform:scaleX(1.3793);transform-origin:0 0;font-weight:700;-webkit-text-stroke:0.8px #1e3a8a;">0</div>
<div class="t" style="left:1694.0px;top:1728.7px;font-size:28px;line-height:31.28px;color:#2563eb;transform:scaleX(0.9646);transform-origin:0 0;">Total active bins</div>
<div style="position:absolute;left:1997.3px;top:1456px;width:296px;height:387px;box-sizing:border-box;border:2px solid #fed7aa;border-radius:32px;background:linear-gradient(135deg,#fff7ed,#ffedd5);"></div>
<div style="position:absolute;left:2039.3px;top:1498px;width:80px;height:80px;background:#f97316;border-radius:16px;"></div>
<svg style="position:absolute;left:2059.3px;top:1518px;" width="40" height="40" viewBox="0 0 24 24" fill="none" stroke="#ffffff" stroke-width="2" stroke-linecap="round" stroke-linejoin="round"><path d="M12 8v4l3 3m6-3a9 9 0 11-18 0 9 9 0 0118 0z"/></svg>
<div class="t" style="left:2037.3px;top:1603.6px;font-size:32px;line-height:35.74px;color:#ea580c;transform:scaleX(0.9951);transform-origin:0 0;">Need Renewal</div>
<div class="t" style="left:2036.5px;top:1652.7px;font-size:60px;line-height:67.02px;color:#7c2d12;transform:scaleX(1.3793);transform-origin:0 0;font-weight:700;-webkit-text-stroke:0.8px #7c2d12;">0</div>
<div class="t" style="left:2037.4px;top:1728.7px;font-size:28px;line-height:31.28px;color:#ea580c;transform:scaleX(0.9500);transform-origin:0 0;">Next 30 days</div>
<div style="position:absolute;left:2342.6px;top:1456px;width:296px;height:387px;box-sizing:border-box;border:2px solid #e9d5ff;border-radius:32px;background:linear-gradient(135deg,#faf5ff,#f3e8ff);"></div>
<div style="position:absolute;left:2384.6px;top:1498px;width:80px;height:80px;background:#a855f7;border-radius:16px;"></div>
<svg style="position:absolute;left:2404.6px;top:1518px;" width="40" height="40" viewBox="0 0 24 24" fill="none" stroke="#ffffff" stroke-width="2" stroke-linecap="round" stroke-linejoin="round"><path d="M8 7h12m0 0l-4-4m4 4l-4 4m0 6H4m0 0l4 4m-4-4l4-4"/></svg>
<div class="t" style="left:2382.6px;top:1603.6px;font-size:32px;line-height:35.74px;color:#9333ea;transform:scaleX(1.0137);transform-origin:0 0;">Need</div>
<div class="t" style="left:2383.6px;top:1643.6px;font-size:32px;line-height:35.74px;color:#9333ea;transform:scaleX(1.0145);transform-origin:0 0;">Collection</div>
<div class="t" style="left:2381.8px;top:1692.7px;font-size:60px;line-height:67.02px;color:#581c87;transform:scaleX(1.3793);transform-origin:0 0;font-weight:700;-webkit-text-stroke:0.8px #581c87;">0</div>
<div class="t" style="left:2382.6px;top:1768.7px;font-size:28px;line-height:31.28px;color:#9333ea;transform:scaleX(0.9906);transform-origin:0 0;">Due for collection</div>
<svg style="position:absolute;left:468px;top:1907.6px;" width="40" height="40" viewBox="0 0 24 24" fill="none" stroke="#475569" stroke-width="2" stroke-linecap="round" stroke-linejoin="round"><path d="m11.25 11.25.041-.02a.75.75 0 0 1 1.063.852l-.708 2.836a.75.75 0 0 0 1.063.853l.041-.021M21 12a9 9 0 1 1-18 0 9 9 0 0 1 18 0Zm-9-3.75h.008v.008H12V8.25Z"/></svg>
<div class="t" style="left:525.4px;top:1908.4px;font-size:36px;line-height:40.21px;color:#111827;transform:scaleX(1.0668);transform-origin:0 0;font-weight:700;">Recent Transactions</div>
<div class="t" style="left:1260.3px;top:1912.7px;font-size:28px;line-height:31.28px;color:#6b7280;transform:scaleX(1.1262);transform-origin:0 0;">2 transactions</div>
<svg style="position:absolute;left:1652px;top:1916px;" width="40" height="40" viewBox="0 0 24 24" fill="none" stroke="#475569" stroke-width="2" stroke-linecap="round" stroke-linejoin="round"><path d="m11.25 11.25.041-.02a.75.75 0 0 1 1.063.852l-.708 2.836a.75.75 0 0 0 1.063.853l.041-.021M21 12a9 9 0 1 1-18 0 9 9 0 0 1 18 0Zm-9-3.75h.008v.008H12V8.25Z"/></svg>
<div class="t" style="left:1708.9px;top:1916.4px;font-size:36px;line-height:40.21px;color:#111827;transform:scaleX(1.0670);transform-origin:0 0;font-weight:700;">Recent Collections</div>
<div class="t" style="left:2463.9px;top:1920.7px;font-size:28px;line-height:31.28px;color:#6b7280;transform:scaleX(1.1447);transform-origin:0 0;">0 collections</div>
</body></html>
